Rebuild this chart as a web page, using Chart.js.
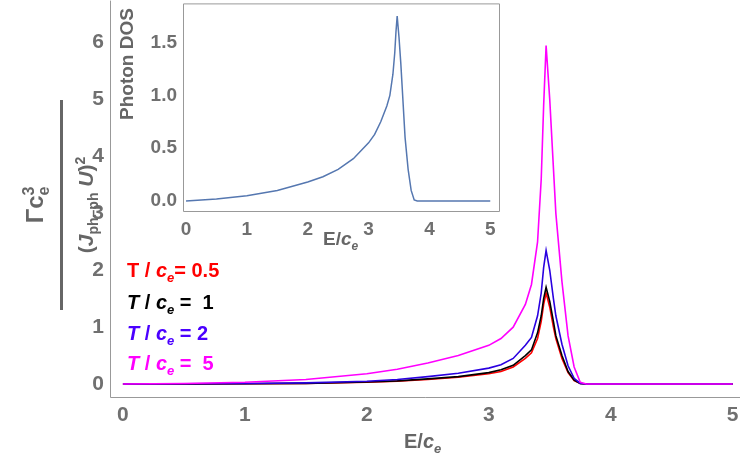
<!DOCTYPE html><html><head><meta charset="utf-8">
<script src="https://cdn.jsdelivr.net/npm/chart.js@4"></script>
<style>
body{margin:0;width:747px;height:465px;position:relative;background:#fff;font-family:"Liberation Sans",Arial,sans-serif;overflow:hidden}
#main{position:absolute;left:0;top:-18px}
#inset{position:absolute;left:115px;top:-14px}
.t{position:absolute;font-weight:bold;white-space:nowrap}
</style></head><body>
<canvas id="main" width="747" height="483"></canvas>
<canvas id="inset" width="390" height="272"></canvas>
<div class="t" style="left:-50px;top:150px;width:220px;height:110px;transform:rotate(-90deg);color:#666;display:flex;flex-direction:column;align-items:center;justify-content:center">
 <div style="font-size:24px;line-height:30px">Γc<sub style="font-size:16px">e</sub><sup style="font-size:16px;margin-left:-9px">3</sup></div>
 <div style="width:210px;border-top:3px solid #666;margin:2px 0 4px"></div>
 <div style="font-size:21px;line-height:26px">(<i>J</i><sub style="font-size:14px">ph–ph</sub> <i>U</i>)<sup style="font-size:14px">2</sup></div>
</div>
<div class="t" style="left:127px;top:259px;font-size:20px;color:#ff0000">T / <i>c<sub style="font-size:13px">e</sub></i>= 0.5</div>
<div class="t" style="left:127px;top:291px;font-size:20px;color:#000"><i>T</i> / <i>c<sub style="font-size:13px">e</sub></i> =&nbsp; 1</div>
<div class="t" style="left:127px;top:322px;font-size:20px;color:#4b00ff"><i>T</i> / <i>c<sub style="font-size:13px">e</sub></i> = 2</div>
<div class="t" style="left:127px;top:352px;font-size:20px;color:#ff00ff"><i>T</i> / <i>c<sub style="font-size:13px">e</sub></i> =&nbsp; 5</div>
<div class="t" style="left:404px;top:430px;font-size:20px;color:#666">E/<i>c<sub style="font-size:13px">e</sub></i></div>
<div class="t" style="left:323px;top:228px;font-size:19px;color:#666">E/<i>c<sub style="font-size:12px">e</sub></i></div>
<div class="t" style="left:116px;top:120px;font-size:19px;color:#666;transform:rotate(-90deg);transform-origin:0 0">Photon DOS</div>
<script>
const E = [0,0.5,1,1.5,2,2.25,2.5,2.75,3,3.1,3.2,3.3,3.35,3.4,3.43,3.45,3.47,3.5,3.53,3.55,3.6,3.65,3.7,3.75,3.8,4,4.5,5];
const dos = [0,0.02,0.05,0.1,0.18,0.23,0.3,0.4,0.55,0.63,0.75,0.9,1.0,1.2,1.4,1.6,1.75,1.55,1.3,1.1,0.6,0.3,0.1,0.01,0,0,0,0];
const g05 = [0,0.002,0.005,0.01,0.03,0.05,0.08,0.12,0.18,0.22,0.3,0.45,0.55,0.8,1.1,1.4,1.6,1.35,1.0,0.8,0.45,0.2,0.06,0.01,0,0,0,0];
const g1  = [0,0.003,0.006,0.012,0.035,0.055,0.09,0.13,0.2,0.25,0.33,0.5,0.6,0.9,1.2,1.5,1.7,1.45,1.1,0.85,0.5,0.22,0.07,0.01,0,0,0,0];
const g2  = [0,0.004,0.01,0.02,0.05,0.08,0.13,0.19,0.28,0.34,0.45,0.68,0.82,1.2,1.6,2.05,2.35,2.0,1.5,1.2,0.7,0.32,0.1,0.01,0,0,0,0];
const g5  = [0,0.01,0.03,0.08,0.18,0.26,0.37,0.5,0.68,0.8,1.0,1.4,1.75,2.5,3.6,4.9,5.95,5.0,3.8,3.0,1.8,0.85,0.3,0.03,0,0,0,0];
const xt = [0,1,2,3,4,5];
const mk=a=>a.map((v,i)=>({x:E[i],y:v}));
const gray='#707070';
function ds(d,c,w){return {data:mk(d),borderColor:c,borderWidth:w,pointRadius:0,tension:0,fill:false};}
const border={id:'b',beforeDraw(ch,a,o){const c=ch.ctx,ca=ch.chartArea;c.save();if(o.box){c.fillStyle='#fff';c.fillRect(ca.left,ca.top,ca.right-ca.left,ca.bottom-ca.top);}
c.strokeStyle='#999';c.lineWidth=1;c.beginPath();if(o.box){c.rect(ca.left+.5,ca.top+.5,ca.right-ca.left-1,ca.bottom-ca.top-1);}else{c.moveTo(ca.left+.5,ca.top);c.lineTo(ca.left+.5,ca.bottom+.5);c.lineTo(ca.right,ca.bottom+.5);}c.stroke();c.restore();}};
function axes(xmin,xmax,ymin,ymax,ystep,fs,yfmt,lw,bh){
 return {x:{type:'linear',min:xmin,max:xmax,afterBuildTicks:s=>{s.ticks=xt.map(v=>({value:v}));},
   afterFit:s=>{s.height=bh;},grid:{display:false,drawTicks:false},border:{display:false},
   ticks:{color:gray,font:{size:fs,weight:'bold'},padding:6}},
  y:{type:'linear',min:ymin,max:ymax,afterBuildTicks:s=>{const t=[];for(let v=0;v<=ymax+1e-9;v+=ystep)t.push({value:+v.toFixed(2)});s.ticks=t;},
   afterFit:s=>{s.width=lw;},grid:{display:false,drawTicks:false},border:{display:false},
   ticks:{color:gray,font:{size:fs,weight:'bold'},padding:6,callback:yfmt}}};
}
new Chart(document.getElementById('main'),{type:'line',
 data:{datasets:[ds(g5,'#ff00ff',1.6),ds(g2,'#2a00e0',1.6),ds(g1,'#000',1.6),ds(g05,'#ff0000',1.6)]},
 options:{responsive:false,animation:false,events:[],layout:{padding:{top:0,right:7,left:0,bottom:0}},
  plugins:{legend:{display:false},tooltip:{enabled:false},b:{box:false}},
  scales:axes(-0.106,5.06,-0.228,6.74,1,21,v=>v,110,68)},plugins:[border]});
new Chart(document.getElementById('inset'),{type:'line',
 data:{datasets:[ds(dos,'#5577b0',1.5)]},
 options:{responsive:false,animation:false,events:[],layout:{padding:{top:0,right:5,left:0,bottom:0}},
  plugins:{legend:{display:false},tooltip:{enabled:false},b:{box:true}},
  scales:axes(-0.05,5.16,-0.104,1.87,0.5,19,v=>v.toFixed(1),68,46)},plugins:[border]});
</script></body></html>
